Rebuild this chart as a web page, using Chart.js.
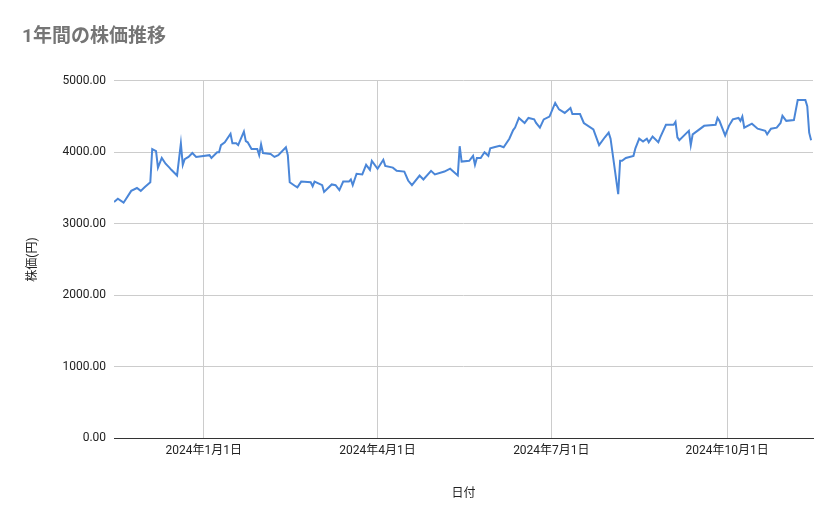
<html>
<head>
<script src="https://cdn.jsdelivr.net/npm/chart.js@4.4.0/dist/chart.umd.min.js"></script>
<style>body{margin:0;background:#fff}</style>
</head>
<body>
<canvas id="myChart" width="839" height="519"></canvas>
<script>
// day offset from 2024-01-01
const days = [-47,-45,-42,-38,-35,-33,-31,-28,-27,-25,-24,-22,-20,-18,-17,-14,-12,-11,-10,-8,-6,-4,3,4,7,8,9,11,14,15,17,18,21,22,23,25,28,29,30,31,35,37,39,43,44,45,48,49,51,56,57,58,60,62,63,67,69,71,73,76,77,78,80,83,85,87,88,91,94,95,99,101,105,107,109,113,115,119,121,126,129,133,134,135,139,141,142,143,145,147,149,150,152,155,157,160,162,163,165,168,170,173,174,176,178,181,184,186,189,192,193,197,199,204,207,210,212,213,217,218,219,221,225,226,228,230,232,233,235,238,239,242,246,247,248,249,253,254,255,256,262,268,269,270,273,275,277,280,281,282,283,287,290,294,295,297,300,302,303,305,309,311,315,316,317,318];
const prices = [3305,3350,3295,3460,3500,3460,3510,3580,4045,4015,3785,3920,3840,3785,3755,3675,4125,3825,3905,3935,3990,3935,3960,3920,4000,4000,4100,4140,4260,4125,4125,4100,4290,4155,4140,4045,4045,3960,4110,3990,3975,3935,3960,4070,3960,3580,3525,3510,3590,3580,3525,3590,3565,3540,3445,3550,3540,3470,3590,3590,3620,3540,3700,3690,3825,3755,3880,3770,3895,3810,3785,3740,3730,3605,3540,3675,3620,3740,3690,3730,3770,3675,4085,3870,3880,3950,3825,3920,3920,4000,3950,4055,4070,4090,4070,4190,4310,4345,4480,4410,4480,4460,4410,4345,4460,4500,4690,4600,4550,4620,4535,4535,4410,4320,4100,4210,4275,4190,3415,3880,3880,3920,3950,4055,4190,4150,4190,4140,4220,4140,4210,4385,4385,4425,4210,4170,4275,4300,4100,4250,4370,4385,4480,4440,4235,4370,4460,4480,4440,4500,4345,4400,4330,4300,4250,4330,4345,4410,4510,4440,4450,4730,4730,4645,4275,4170];
const tickDays = [0, 91, 182, 274];
const tickLabels = ["2024年1月1日", "2024年4月1日", "2024年7月1日", "2024年10月1日"];

const font = "Roboto, 'Noto Sans CJK JP', sans-serif";
Chart.defaults.font.family = font;

new Chart(document.getElementById("myChart"), {
  type: "line",
  data: {
    datasets: [{
      data: days.map((d, i) => ({ x: d, y: prices[i] })),
      borderColor: "#4a86d8",
      borderWidth: 2,
      pointRadius: 0,
      tension: 0
    }]
  },
  options: {
    responsive: false,
    animation: false,
    layout: { padding: { left: 22, right: 26, top: 0, bottom: 14 } },
    plugins: {
      legend: { display: false },
      title: {
        display: true, text: "1年間の株価推移", align: "start", color: "#757575",
        font: { size: 19, weight: "bold" }, padding: { top: 26, bottom: 32 }
      }
    },
    scales: {
      x: {
        type: "linear", min: -47, max: 319,
        afterBuildTicks: (s) => { s.ticks = tickDays.map((v) => ({ value: v })); },
        ticks: {
          callback: (v) => tickLabels[tickDays.indexOf(v)] || "",
          color: "#222", font: { size: 12 }, maxRotation: 0, autoSkip: false, padding: 6
        },
        grid: { color: "#cccccc", drawTicks: false },
        border: { color: "#333" },
        title: { display: true, text: "日付", color: "#222", font: { size: 12 }, padding: { top: 22 } }
      },
      y: {
        min: 0, max: 5000,
        ticks: { stepSize: 1000, callback: (v) => v.toFixed(2), color: "#222", font: { size: 12 }, padding: 8 },
        grid: { color: "#cccccc", drawTicks: false },
        border: { display: false },
        title: { display: true, text: "株価(円)", color: "#222", font: { size: 12 }, padding: { bottom: 14 } }
      }
    }
  }
});
</script>
</body>
</html>
